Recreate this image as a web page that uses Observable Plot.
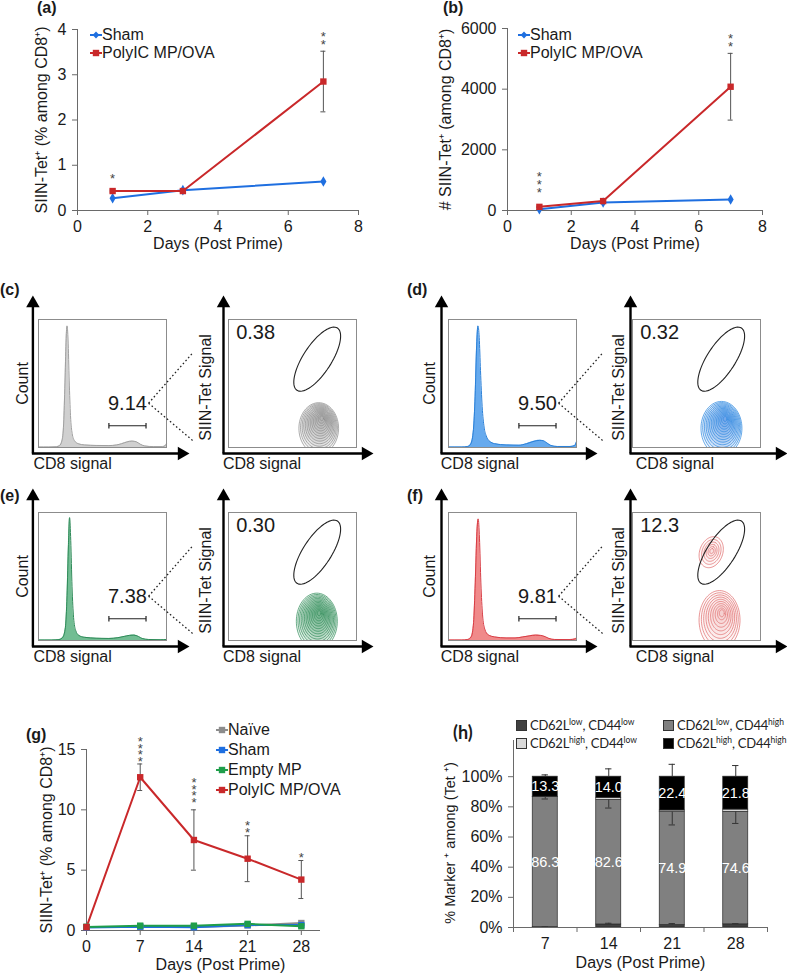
<!DOCTYPE html>
<html><head><meta charset="utf-8">
<script src="https://cdn.jsdelivr.net/npm/d3@7"></script>
<script src="https://cdn.jsdelivr.net/npm/@observablehq/plot@0.6"></script>
<style>
html,body{margin:0;padding:0;background:#fff;}
#fig{position:relative;width:787px;height:978px;overflow:hidden;font-family:"Liberation Sans",Arial,sans-serif;color:#1a1a1a;background:#fff;}
#fig svg{overflow:visible;}
.lab{position:absolute;font-weight:bold;font-size:16px;line-height:18px;}
.leg{position:absolute;font-size:16px;}
.leg div{display:flex;align-items:center;white-space:nowrap;}
.hleg{position:absolute;font-family:Lato,"Open Sans",sans-serif;font-size:13px;letter-spacing:-0.25px;line-height:18px;white-space:nowrap;color:#222;}
.hleg sup{font-size:8.5px;vertical-align:super;line-height:0;letter-spacing:0;}
.hleg .sw{display:inline-block;width:9px;height:9px;border:1px solid #333;margin-right:3px;vertical-align:-1px;}
</style></head>
<body><div id="fig"></div>
<script>
// ---------- DATA ----------
// (a) / (b)
const daysAB = [1, 3, 7];
const shamPct = [0.27, 0.45, 0.64];
const polyPct = [0.43, 0.43, 2.85];
const polyPctLo = [0.41, 0.41, 2.18];
const polyPctHi = [0.45, 0.45, 3.52];
const starsA = [{x: 1, y: 0.61, t: "*"}, {x: 7, y: 3.57, t: "*\n*"}];
const shamNum = [40, 265, 360];
const polyNum = [120, 310, 4080];
const polyNumLo = [100, 290, 2980];
const polyNumHi = [140, 330, 5180];
const starsB = [{x: 1, y: 445, t: "*\n*\n*"}, {x: 7, y: 5258, t: "*\n*"}];
// (g)
const daysG = [0, 7, 14, 21, 28];
const naiveG = [0.3, 0.3, 0.3, 0.42, 0.62];
const shamG = [0.25, 0.32, 0.27, 0.45, 0.45];
const emptyG = [0.3, 0.4, 0.4, 0.55, 0.35];
const polyG = [0.28, 12.7, 7.5, 5.95, 4.22];
const polyGLo = [0.22, 11.6, 5.0, 4.05, 2.65];
const polyGHi = [0.34, 13.8, 10.0, 7.85, 5.8];
const starsG = [{x: 7, y: 13.63, t: "*\n*\n*\n*"}, {x: 14, y: 10.23, t: "*\n*\n*\n*"}, {x: 21, y: 7.75, t: "*\n*"}, {x: 28, y: 5.68, t: "*"}];
// (h)
const hDays = ["7", "14", "21", "28"];
const hLowLow = [0.2, 2.0, 1.6, 2.1];
const hLowHigh = [86.3, 82.6, 74.9, 74.6];
const hHighLow = [0.2, 1.4, 1.1, 1.5];
const hHighHigh = [13.3, 14.0, 22.4, 21.8];
const hErrTopHi = [101.2, 105.2, 108.2, 107.4];
const hErrMidLo = [85.2, 79.2, 68.0, 69.0];
const hErrBotHi = [0.5, 2.8, 2.6, 2.6];
// flow panels (c)-(f): histogram curves (CD8 signal, count %)
const histC = [[0,0.4],[8,0.4],[14,0.6],[16.5,1.5],[18.5,6],[19.8,22],[20.8,55],[21.6,85],[22.3,95],[23.1,84],[24,52],[25,25],[26.3,11],[28,5.5],[31,3],[36,2],[45,1.6],[55,1.5],[61,2],[65,3],[69,4.3],[73,5],[76.5,4.4],[79.5,2.6],[83,1.2],[90,0.7],[97,0.7],[99,1.5],[100,3]];
const histD = [[0,0.4],[10,0.4],[15,0.8],[17.5,3],[19.5,14],[20.8,40],[22,80],[23,95],[24,86],[25,60],[26.3,32],[27.8,16],[29.5,9],[32,5],[36,3],[45,2],[55,1.8],[61,3],[66,4.6],[71,5.6],[74,5.3],[77,3.5],[80,1.6],[85,0.8],[95,0.8],[98.5,1.5],[100,4.5]];
const histE = [[0,0.4],[10,0.4],[16,0.7],[19,2.5],[21,10],[22.3,35],[23.4,75],[24.3,96],[25.2,78],[26.2,42],[27.4,18],[29,8],[31.5,4],[36,2.5],[45,1.8],[55,1.6],[62,2.2],[67,3.2],[71,4],[74.5,4.2],[78,3.2],[81,1.6],[86,0.8],[95,0.6],[100,0.8]];
const histF = [[0,0.4],[10,0.4],[15,0.8],[17.8,3],[19.6,14],[20.9,45],[22.2,85],[23.2,95],[24.2,80],[25.3,45],[26.6,20],[28.3,9],[31,4.5],[36,2.8],[45,2],[52,2],[58,2.8],[63,3.6],[68,4.2],[72,4],[75.5,3],[78.5,1.6],[83,0.8],[95,0.7],[99,1.3],[100,2]];
const cd8GateLabels = ["9.14", "9.50", "7.38", "9.81"];
const cd8GateRange = [55, 84];
const connectorEnds = [74.5, 5];
const tetGateLabels = ["0.38", "0.32", "0.30", "12.3"];
const tetGate = {cx: 69.3, cy: 69, a: 29, b: 11, ang: 57};
const levelsDense = [1, 0.93, 0.86, 0.79, 0.72, 0.65, 0.58, 0.51, 0.44, 0.37, 0.30, 0.23, 0.16, 0.09];
const levelsSparse = [1, 0.9, 0.8, 0.7, 0.6, 0.5, 0.4, 0.3, 0.2, 0.12];
const levelsSmall = [1, 0.8, 0.62, 0.45, 0.3, 0.16];
const clustersC = [{cx: 70.5, cy: 15, rx: 15.5, ry: 20, sx: 73, sy: 23.5, ang: 0, lv: levelsDense}];
const clustersD = [{cx: 69.5, cy: 15, rx: 16, ry: 21, sx: 72.6, sy: 23, ang: 0, lv: levelsDense}];
const clustersE = [{cx: 69, cy: 15, rx: 16, ry: 22, sx: 71, sy: 22, ang: 0, lv: levelsDense}];
const clustersF = [{cx: 68, cy: 16, rx: 16, ry: 23, sx: 70, sy: 22, ang: 0, lv: levelsSparse},
                   {cx: 61.5, cy: 69, rx: 12.5, ry: 9, sx: 62, sy: 70, ang: 70, lv: levelsSmall}];

// ---------- HELPERS ----------
const fig = document.getElementById("fig");
const AX = "#6a6a6a", TXT = "#1a1a1a";
const FONT = "'Liberation Sans', Arial, sans-serif";
const BLUE = "#1f6fe0", RED = "#c9282a", GREEN = "#1f9e4a", GRAY = "#8c8c8c";
const baseStyle = {fontFamily: FONT, fontSize: "16px", color: TXT, background: "transparent", overflow: "visible"};
function addPlot(svg, left, top) {
  svg.style.position = "absolute"; svg.style.left = left + "px"; svg.style.top = top + "px";
  fig.appendChild(svg);
}
function addDiv(html, left, top, cls) {
  const d = document.createElement("div"); d.className = cls; d.innerHTML = html;
  d.style.left = left + "px"; d.style.top = top + "px"; fig.appendChild(d); return d;
}
function swatch(color, symbol) {
  const m = symbol === "diamond"
    ? `<path d="M6,5.6 L9.4,9 L6,12.4 L2.6,9Z" fill="${color}"/>`
    : `<rect x="2.8" y="5.8" width="6.4" height="6.4" fill="${color}"/>`;
  return `<svg width="12" height="18" style="flex:none;overflow:visible"><line x1="0" x2="12" y1="9" y2="9" stroke="${color}" stroke-width="2"/>${m}</svg>`;
}
function legend(items, left, top, lh) {
  const html = items.map(([name, c, s]) => `<div style="height:${lh}px">${swatch(c, s)}<span>${name}</span></div>`).join("");
  addDiv(html, left, top, "leg");
}
function ellipse(cx, cy, rx, ry, angDeg, k) {
  const a = angDeg * Math.PI / 180;
  return d3.range(72).map(i => {
    const t = 2 * Math.PI * i / 72, ex = rx * Math.cos(t), ey = ry * Math.sin(t);
    return {x: cx + ex * Math.cos(a) - ey * Math.sin(a), y: cy + ex * Math.sin(a) + ey * Math.cos(a), k};
  });
}

// ---------- LINE PANELS (a), (b), (g) ----------
function linePanel(o) {
  const fw = o.width - o.ml - o.mr;
  const cap = 2.5 * (o.xDomain[1] - o.xDomain[0]) / fw;
  const marks = [
    Plot.ruleX([o.xDomain[0]], {stroke: AX}),
    Plot.ruleY([o.yDomain[0]], {stroke: AX}),
    Plot.axisX({ticks: o.xTicks, tickSize: 5, tickPadding: 5, stroke: AX, fill: TXT, fontSize: 16, label: null, tickFormat: d => String(d)}),
    Plot.axisY({ticks: o.yTicks, tickSize: 5, tickPadding: 6, stroke: AX, fill: TXT, fontSize: 16, label: null, tickFormat: d => String(d)})
  ];
  const rowsOf = s => o.x.map((x, i) => ({x, y: s.y[i], lo: s.lo ? s.lo[i] : null, hi: s.hi ? s.hi[i] : null}));
  for (const s of o.series) marks.push(Plot.line(rowsOf(s), {x: "x", y: "y", stroke: s.color, strokeWidth: 2}));
  for (const s of o.series) if (s.lo) {
    const r = rowsOf(s);
    marks.push(Plot.ruleX(r, {x: "x", y1: "lo", y2: "hi", stroke: "#555", strokeWidth: 1}));
    marks.push(Plot.ruleY(r, {y: "hi", x1: d => d.x - cap, x2: d => d.x + cap, stroke: "#555", strokeWidth: 1}));
    marks.push(Plot.ruleY(r, {y: "lo", x1: d => d.x - cap, x2: d => d.x + cap, stroke: "#555", strokeWidth: 1}));
  }
  for (const s of o.series) marks.push(Plot.dot(rowsOf(s), {x: "x", y: "y", symbol: s.symbol, fill: s.color, r: s.symbol === "diamond" ? 3.2 : 3.6}));
  marks.push(Plot.text(o.stars, {x: "x", y: "y", text: "t", fontSize: 13, lineHeight: o.starLH, lineAnchor: "bottom", fill: "#444"}));
  marks.push(Plot.text([o.yLabel], {frameAnchor: "left", textAnchor: "middle", dx: o.yLabelDx, rotate: -90, fontSize: 16, fill: TXT}));
  marks.push(Plot.text([o.xLabel], {frameAnchor: "bottom", textAnchor: "middle", dx: o.xLabelDx || 0, dy: o.xLabelDy, fontSize: 16, fill: TXT}));
  const svg = Plot.plot({width: o.width, height: o.height, marginLeft: o.ml, marginRight: o.mr, marginTop: o.mt, marginBottom: o.mb,
    x: {domain: o.xDomain}, y: {domain: o.yDomain}, style: baseStyle, marks});
  addPlot(svg, o.left, o.top);
}

linePanel({left: 0, top: 0, width: 390, height: 270, ml: 77, mr: 32, mt: 29, mb: 60,
  x: daysAB, xDomain: [0, 8], xTicks: [0, 2, 4, 6, 8], yDomain: [0, 4], yTicks: [0, 1, 2, 3, 4],
  series: [{y: shamPct, color: BLUE, symbol: "diamond"}, {y: polyPct, lo: polyPctLo, hi: polyPctHi, color: RED, symbol: "square"}],
  stars: starsA, starLH: 0.62, yLabel: "SIIN-Tet⁺ (% among CD8⁺)", yLabelDx: -36, xLabel: "Days (Post Prime)", xLabelDy: 38});
legend([["Sham", BLUE, "diamond"], ["PolyIC MP/OVA", RED, "square"]], 90, 26, 18);

linePanel({left: 390, top: 0, width: 397, height: 270, ml: 117, mr: 25, mt: 28, mb: 60,
  x: daysAB, xDomain: [0, 8], xTicks: [0, 2, 4, 6, 8], yDomain: [0, 6000], yTicks: [0, 2000, 4000, 6000],
  series: [{y: shamNum, color: BLUE, symbol: "diamond"}, {y: polyNum, lo: polyNumLo, hi: polyNumHi, color: RED, symbol: "square"}],
  stars: starsB, starLH: 0.62, yLabel: "# SIIN-Tet⁺ (among CD8⁺)", yLabelDx: -62, xLabel: "Days (Post Prime)", xLabelDy: 38});
legend([["Sham", BLUE, "diamond"], ["PolyIC MP/OVA", RED, "square"]], 518, 26, 18);

linePanel({left: 0, top: 700, width: 390, height: 278, ml: 86, mr: 70, mt: 49, mb: 48,
  x: daysG, xDomain: [0, 30.5], xTicks: [0, 7, 14, 21, 28], yDomain: [0, 15], yTicks: [0, 5, 10, 15],
  series: [{y: naiveG, color: GRAY, symbol: "square"}, {y: shamG, color: BLUE, symbol: "square"},
           {y: emptyG, color: GREEN, symbol: "square"}, {y: polyG, lo: polyGLo, hi: polyGHi, color: RED, symbol: "square"}],
  stars: starsG, starLH: 0.52, yLabel: "SIIN-Tet⁺ (% among CD8⁺)", yLabelDx: -40, xLabel: "Days (Post Prime)", xLabelDx: 17, xLabelDy: 39});
legend([["Naïve", GRAY, "square"], ["Sham", BLUE, "square"], ["Empty MP", GREEN, "square"], ["PolyIC MP/OVA", RED, "square"]], 216, 720, 20);

// ---------- FLOW PANELS (c)-(f) ----------
const U = 1.28; // px per unit (box = 128 px = 100 units)
function flowAxes(gap, tipRight, tipTop) {
  const ax = -gap / U, ay = -6 / U, top = 100 + tipTop / U, right = 100 + tipRight / U;
  const cen = 7.8 / U, base = 11 / U;
  return [
    Plot.link([{}], {x1: () => ax, y1: () => ay, x2: () => ax, y2: () => top - base, stroke: "#000", strokeWidth: 2.4}),
    Plot.link([{}], {x1: () => ax - 1 / U, y1: () => ay, x2: () => right - base, y2: () => ay, stroke: "#000", strokeWidth: 2.4}),
    Plot.dot([{}], {x: () => ax, y: () => top - cen, symbol: "triangle", r: 5, fill: "#000"}),
    Plot.dot([{}], {x: () => right - cen, y: () => ay, symbol: "triangle", r: 5, fill: "#000", rotate: 90})
  ];
}
function flowPanel(p) {
  const M = 40, MT = 36, MB = 36;
  const dims = {width: 128 + 2 * M, height: 128 + MT + MB, marginLeft: M, marginRight: M, marginTop: MT, marginBottom: MB,
    x: {domain: [0, 100], axis: null}, y: {domain: [0, 100], axis: null}, style: baseStyle};
  const hist = p.hist.map(([x, y]) => ({x, y}));
  const [g1, g2] = cd8GateRange;
  const gm = (g1 + g2) / 2;
  const conn = connectorEnds.map(e => ({x1: gm + 16.5, y1: 34.6, x2: 121, y2: e}));
  const histSvg = Plot.plot({...dims, marks: [
    Plot.areaY(hist, {x: "x", y: "y", fill: p.fill, curve: "monotone-x"}),
    Plot.lineY(hist, {x: "x", y: "y", stroke: p.stroke, strokeWidth: 1, curve: "monotone-x"}),
    Plot.frame({stroke: "#8c8c8c", strokeWidth: 1}),
    Plot.link([{a: g1, b: g2}], {x1: "a", x2: "b", y1: () => 17, y2: () => 17, stroke: "#222", strokeWidth: 1.2}),
    Plot.link([{a: g1}, {a: g2}], {x1: "a", x2: "a", y1: () => 14.8, y2: () => 19.2, stroke: "#222", strokeWidth: 1.2}),
    Plot.text([p.gate], {x: () => gm, y: () => 34.6, textAnchor: "middle", fontSize: 20, fill: TXT}),
    Plot.link(conn, {x1: "x1", y1: "y1", x2: "x2", y2: "y2", stroke: "#222", strokeWidth: 1.3, strokeDasharray: "1.6,2.4"}),
    ...flowAxes(p.hGap, p.hTip, 24),
    Plot.text(["Count"], {frameAnchor: "left", textAnchor: "middle", dx: p.countDx, rotate: -90, fontSize: 16, fill: TXT}),
    Plot.text(["CD8 signal"], {frameAnchor: "bottom-left", dx: p.hCd8Dx, dy: 21, textAnchor: "start", fontSize: 16, fill: TXT})
  ]});
  addPlot(histSvg, p.hBox[0] - M, p.hBox[1] - MT);

  const cont = [];
  p.clusters.forEach((c, ci) => c.lv.forEach((t, li) => {
    cont.push(...ellipse(c.sx + (c.cx - c.sx) * t, c.sy + (c.cy - c.sy) * t, c.rx * t, c.ry * t, c.ang, ci * 100 + li));
  }));
  const contSvg = Plot.plot({...dims, marks: [
    Plot.line(cont, {x: "x", y: "y", z: "k", curve: "linear-closed", stroke: p.cColor, strokeWidth: 0.7, fill: p.cColor, fillOpacity: p.cFill, clip: "frame"}),
    Plot.frame({stroke: "#8c8c8c", strokeWidth: 1}),
    Plot.line(ellipse(tetGate.cx, tetGate.cy, tetGate.a, tetGate.b, tetGate.ang, 0), {x: "x", y: "y", curve: "linear-closed", stroke: "#222", strokeWidth: 1.1}),
    Plot.text([p.pct], {x: () => 6, y: () => 90, textAnchor: "start", fontSize: 20, fill: TXT}),
    ...flowAxes(p.cGap, p.cTip, 24),
    Plot.text(["SIIN-Tet Signal"], {frameAnchor: "left", textAnchor: "middle", dx: p.siinDx, dy: 4, rotate: -90, fontSize: 16, fill: TXT}),
    Plot.text(["CD8 signal"], {frameAnchor: "bottom-left", dx: p.cCd8Dx, dy: 21, textAnchor: "start", fontSize: 16, fill: TXT})
  ]});
  addPlot(contSvg, p.cBox[0] - M, p.cBox[1] - MT);
}
const dy2 = 192.4;
flowPanel({hist: histC, fill: "#d0d0d0", stroke: "#a0a0a0", gate: cd8GateLabels[0], pct: tetGateLabels[0], clusters: clustersC, cColor: "#8a8a8a", cFill: 0.07,
  hBox: [38.3, 319.3], cBox: [228.3, 319.3], hGap: 5.6, cGap: 5, hTip: 23, cTip: 17, countDx: -16, siinDx: -23, hCd8Dx: -5, cCd8Dx: -5.6});
flowPanel({hist: histD, fill: "#66aaee", stroke: "#2a80d8", gate: cd8GateLabels[1], pct: tetGateLabels[1], clusters: clustersD, cColor: "#2a86e0", cFill: 0.07,
  hBox: [447.7, 319.3], cBox: [631.7, 319.3], hGap: 7, cGap: 2, hTip: 21, cTip: 27, countDx: -19, siinDx: -14, hCd8Dx: -7.7, cCd8Dx: 3.3});
flowPanel({hist: histE, fill: "#72bd93", stroke: "#2e8a58", gate: cd8GateLabels[2], pct: tetGateLabels[2], clusters: clustersE, cColor: "#2e8b57", cFill: 0.07,
  hBox: [38.3, 319.3 + dy2], cBox: [228.3, 319.3 + dy2], hGap: 5.6, cGap: 5, hTip: 23, cTip: 17, countDx: -16, siinDx: -23, hCd8Dx: -5, cCd8Dx: -5.6});
flowPanel({hist: histF, fill: "#f08a8a", stroke: "#d83c44", gate: cd8GateLabels[3], pct: tetGateLabels[3], clusters: clustersF, cColor: "#e06a6a", cFill: 0.035,
  hBox: [447.7, 319.3 + dy2], cBox: [631.7, 319.3 + dy2], hGap: 7, cGap: 2, hTip: 21, cTip: 27, countDx: -19, siinDx: -14, hCd8Dx: -7.7, cCd8Dx: 3.3});

// ---------- STACKED BARS (h) ----------
(function () {
  const segs = [[hLowLow, "#404040"], [hLowHigh, "#808080"], [hHighLow, "#d9d9d9"], [hHighHigh, "#000000"]];
  const hw = 0.197;
  const cum = hDays.map(() => 0);
  const marks = [];
  const mids = [];
  segs.forEach(([vals, fill], si) => {
    const rows = vals.map((v, i) => { const r = {i, y1: cum[i] / 100, y2: (cum[i] + v) / 100}; cum[i] += v; return r; });
    marks.push(Plot.rect(rows, {x1: d => d.i - hw, x2: d => d.i + hw, y1: "y1", y2: "y2", fill, stroke: "#2a2a2a", strokeWidth: 0.7}));
    if (si === 1 || si === 3) rows.forEach((r, i) => mids.push({i, y: (r.y1 + r.y2) / 2, t: vals[i].toFixed(1)}));
  });
  const capW = 0.05;
  const errTop = hDays.map((d, i) => ({i, a: 1, b: hErrTopHi[i] / 100}));
  const errMid = hDays.map((d, i) => ({i, a: (hLowLow[i] + hLowHigh[i]) / 100, b: hErrMidLo[i] / 100}));
  const errBot = hDays.map((d, i) => ({i, a: hLowLow[i] / 100, b: hErrBotHi[i] / 100}));
  for (const e of [errTop, errMid, errBot]) {
    marks.push(Plot.ruleX(e, {x: "i", y1: "a", y2: "b", stroke: "#333", strokeWidth: 1}));
    marks.push(Plot.ruleY(e, {y: "b", x1: d => d.i - capW, x2: d => d.i + capW, stroke: "#333", strokeWidth: 1}));
  }
  marks.push(Plot.text(mids, {x: "i", y: "y", text: "t", fill: "#fff", fontSize: 14.5}));
  const svg = Plot.plot({width: 397, height: 278, marginLeft: 123, marginRight: 20, marginTop: 40, marginBottom: 51,
    x: {domain: [-0.5, 3.5]}, y: {domain: [0, 1.24]}, style: baseStyle,
    marks: [
      ...marks,
      Plot.ruleX([-0.5], {stroke: AX}),
      Plot.ruleY([0], {stroke: AX}),
      Plot.axisX({ticks: [-0.5, 0.5, 1.5, 2.5, 3.5], tickSize: 5, stroke: AX, tickFormat: () => "", label: null}),
      Plot.axisX({ticks: [0, 1, 2, 3], tickSize: 0, tickPadding: 10, fill: TXT, fontSize: 16, tickFormat: i => hDays[i], label: null}),
      Plot.axisY({ticks: [0, 0.2, 0.4, 0.6, 0.8, 1], tickSize: 5, tickPadding: 6, stroke: AX, fill: TXT, fontSize: 16, tickFormat: d3.format(".0%"), label: null}),
      Plot.text(["% Marker ⁺ among (Tet ⁺)"], {frameAnchor: "left", textAnchor: "middle", dx: -63, dy: 9, rotate: -90, fontSize: 14.5, fill: TXT}),
      Plot.text(["Days (Post Prime)"], {frameAnchor: "bottom", textAnchor: "middle", dy: 40, fontSize: 16, fill: TXT})
    ]});
  addPlot(svg, 390, 700);
})();
addDiv(`<span class="sw" style="background:#404040"></span>CD62L<sup>low</sup>, CD44<sup>low</sup>`, 516, 716, "hleg");
addDiv(`<span class="sw" style="background:#808080"></span>CD62L<sup>low</sup>, CD44<sup>high</sup>`, 663, 716, "hleg");
addDiv(`<span class="sw" style="background:#d9d9d9"></span>CD62L<sup>high</sup>, CD44<sup>low</sup>`, 516, 734, "hleg");
addDiv(`<span class="sw" style="background:#000"></span>CD62L<sup>high</sup>, CD44<sup>high</sup>`, 663, 734, "hleg");

// ---------- PANEL LETTERS ----------
[["(a)", 37, -1], ["(b)", 443, -1], ["(c)", 0, 281], ["(d)", 407, 281], ["(e)", 0, 487], ["(f)", 407, 487], ["(g)", 26, 726]]
  .forEach(([t, x, y]) => addDiv(t, x, y, "lab"));
const hl = addDiv("(h)", 453, 723, "lab");
hl.style.fontFamily = "Lato, 'Open Sans', sans-serif"; hl.style.fontSize = "18px";
</script>
</body></html>
